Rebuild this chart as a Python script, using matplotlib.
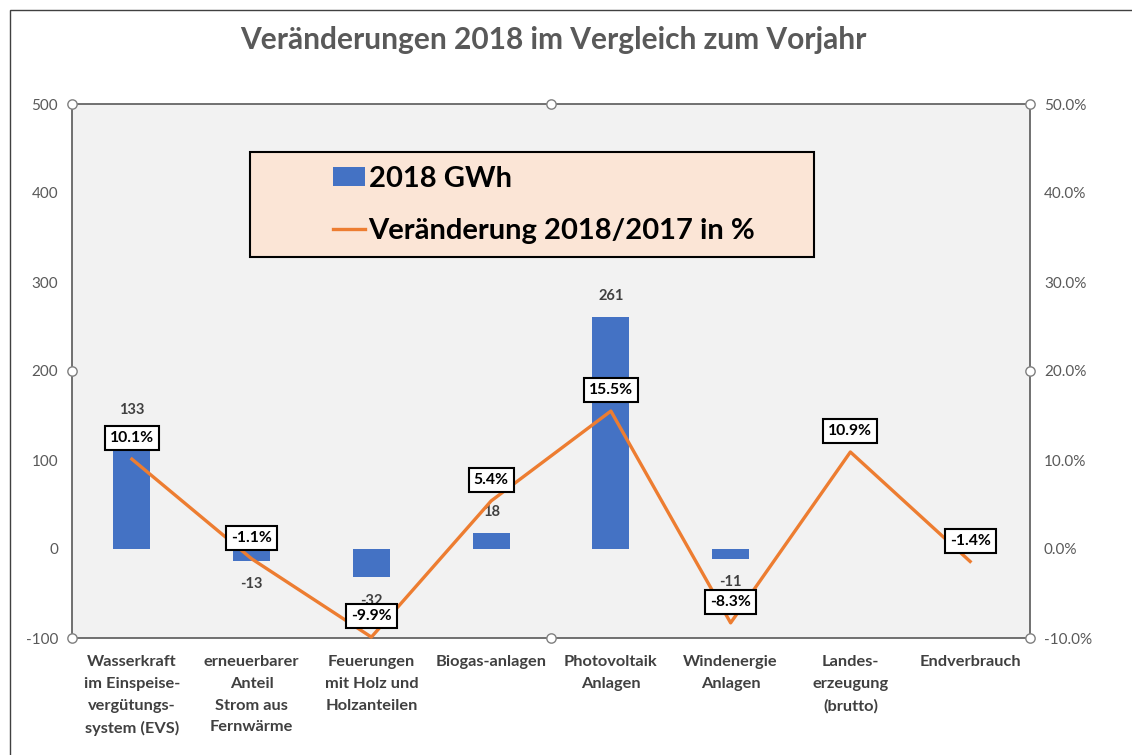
import matplotlib
matplotlib.use("Agg")
import matplotlib.pyplot as plt
from matplotlib.patches import Rectangle, Patch
from matplotlib.lines import Line2D
import numpy as np

categories = ["Wasserkraft\nim Einspeise-\nvergütungs-\nsystem (EVS)",
              "erneuerbarer\nAnteil\nStrom aus\nFernwärme",
              "Feuerungen\nmit Holz und\nHolzanteilen",
              "Biogas-anlagen",
              "Photovoltaik\nAnlagen",
              "Windenergie\nAnlagen",
              "Landes-\nerzeugung\n(brutto)",
              "Endverbrauch"]
gwh_2018 = [133, -13, -32, 18, 261, -11, np.nan, np.nan]
change_pct = [10.1, -1.1, -9.9, 5.4, 15.5, -8.3, 10.9, -1.4]
left_ticks = [-100, 0, 100, 200, 300, 400, 500]
right_ticks = [-10, 0, 10, 20, 30, 40, 50]
title = "Veränderungen 2018 im Vergleich zum Vorjahr"
legend_labels = ["2018 GWh", "Veränderung 2018/2017 in %"]

FONT = "Lato"
plt.rcParams["font.family"] = [FONT, "DejaVu Sans"]

W, H = 1132, 755
fig = plt.figure(figsize=(W / 100, H / 100), dpi=100)
fig.patch.set_facecolor("white")

# outer chart border
fig.patches.append(Rectangle((10 / W, -0.05), 1.2, 1 - 10 / H + 0.05, transform=fig.transFigure,
                             fill=False, edgecolor="#404040", linewidth=1.0))

ax = fig.add_axes([72 / W, 1 - 638 / H, (1030 - 72) / W, (638 - 104) / H])
ax.set_facecolor("#F2F2F2")
x = np.arange(len(categories))
bar_color = "#4472C4"
line_color = "#ED7D31"

ax.bar(x, gwh_2018, width=0.31, color=bar_color, zorder=2)
ax.set_xlim(-0.5, len(categories) - 0.5)
ax.set_ylim(-100, 500)
ax.set_yticks(left_ticks)
ax.set_yticklabels([str(v) for v in left_ticks])
ax.set_xticks(x)
ax.set_xticklabels(categories, fontsize=11.8, color="#404040", fontweight="bold", linespacing=1.72)
ax.tick_params(axis="both", length=0, labelsize=11, colors="#595959", pad=10)
ax.tick_params(axis="x", colors="#404040", pad=12, labelsize=11.8)
for lbl in ax.get_xticklabels():
    lbl.set_verticalalignment("top")
for s in ax.spines.values():
    s.set_color("#595959")
    s.set_linewidth(1.2)

for xi, v in zip(x, gwh_2018):
    if np.isnan(v):
        continue
    off = 10 if v >= 0 else -12
    ax.annotate(f"{int(v)}", (xi, v), xytext=(0, off), textcoords="offset points",
                ha="center", va="bottom" if v >= 0 else "top", fontsize=10.5,
                fontweight="bold", color="#404040", zorder=3)

ax2 = ax.twinx()
ax2.plot(x, change_pct, color=line_color, linewidth=2.4, zorder=3, clip_on=False)
ax2.set_ylim(-10, 50)
ax2.set_yticks(right_ticks)
ax2.set_yticklabels([f"{v:.1f}%" for v in right_ticks])
ax2.tick_params(axis="y", length=0, labelsize=11, colors="#595959", pad=10)
for s in ax2.spines.values():
    s.set_visible(False)

for xi, v in zip(x, change_pct):
    ax2.annotate(f"{v:.1f}%", (xi, v), xytext=(0, 15), textcoords="offset points",
                 ha="center", va="center", fontsize=11.3, fontweight="bold", color="black",
                 bbox=dict(boxstyle="square,pad=0.32", facecolor="white", edgecolor="black", linewidth=1.5),
                 zorder=5)

# selection handles
hx = [0, 0.5, 1, 0, 1, 0, 0.5, 1]
hy = [1, 1, 1, 0.5, 0.5, 0, 0, 0]
ax2.scatter(hx, hy, transform=ax2.transAxes, s=45, facecolor="white", edgecolor="#7F7F7F",
            linewidth=1.0, zorder=10, clip_on=False)

# legend box
fig.patches.append(Rectangle((250 / W, 1 - 257 / H), (814 - 250) / W, (257 - 152) / H,
                             transform=fig.transFigure, facecolor="#FBE5D6", edgecolor="black",
                             linewidth=1.5, zorder=20))
handles = [Patch(facecolor=bar_color, edgecolor="none"),
           Line2D([0], [0], color=line_color, linewidth=2.4)]
leg = fig.legend(handles, legend_labels, loc="upper left",
                 bbox_to_anchor=(333 / W, 1 - 166 / H), frameon=False,
                 prop={"family": FONT, "weight": "bold", "size": 21},
                 handlelength=1.1, handleheight=0.6, handletextpad=0.12, labelspacing=0.88,
                 borderpad=0, borderaxespad=0)
leg.set_zorder(21)

fig.text(553 / W, 1 - 40 / H, title, ha="center", va="center", fontsize=21.5,
         fontweight="bold", color="#595959")

fig.savefig("out.png", dpi=100, facecolor="white")
